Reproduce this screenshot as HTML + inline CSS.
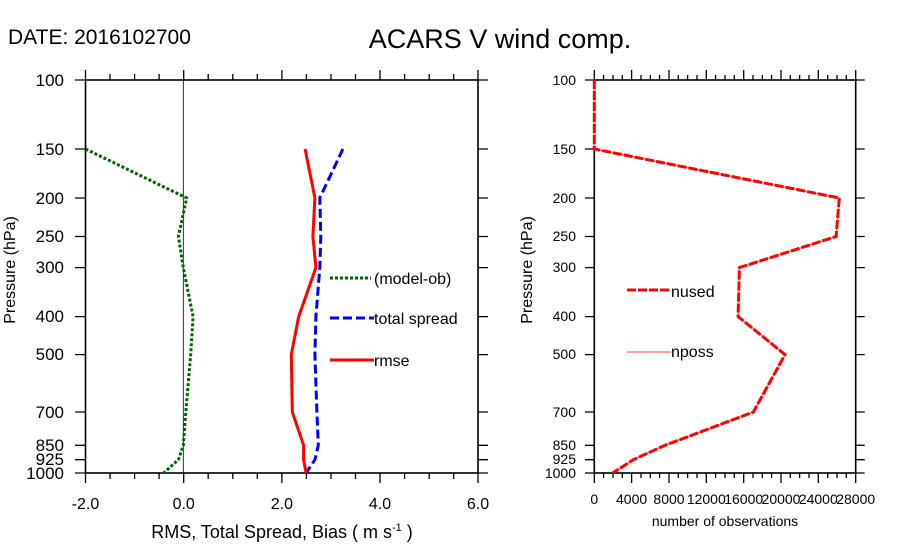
<!DOCTYPE html>
<html><head><meta charset="utf-8"><style>body{margin:0;background:#fff}svg{display:block}text{font-family:"Liberation Sans",sans-serif}</style></head><body>
<svg width="900" height="560" viewBox="0 0 900 560" xmlns="http://www.w3.org/2000/svg">
<text x="8" y="44" font-size="21">DATE: 2016102700</text>
<text x="500" y="48" font-size="27" text-anchor="middle">ACARS V wind comp.</text>
<g stroke="#000" stroke-width="1.3" fill="none">
<rect x="85.5" y="80" width="392.5" height="393" stroke-width="1.6"/>
<line x1="183.3" y1="80" x2="183.3" y2="473" stroke-width="0.8"/>
<path d="M85.5 80v-10M183.7 80v-10M281.9 80v-10M380 80v-10M478 80v-10M85.5 473v10M183.7 473v10M281.9 473v10M380 473v10M478 473v10"/>
<path d="M110 80v-6M134.6 80v-6M159.1 80v-6M208.2 80v-6M232.8 80v-6M257.3 80v-6M306.4 80v-6M331 80v-6M355.5 80v-6M404.6 80v-6M429.2 80v-6M453.7 80v-6M110 473v6M134.6 473v6M159.1 473v6M208.2 473v6M232.8 473v6M257.3 473v6M306.4 473v6M331 473v6M355.5 473v6M404.6 473v6M429.2 473v6M453.7 473v6"/>
<path d="M75 80h10M75 149h10M75 198h10M75 236.5h10M75 267.6h10M75 316.6h10M75 354.6h10M75 412h10M75 445.3h10M75 459.7h10M75 473h10M478 80h10M478 149h10M478 198h10M478 236.5h10M478 267.6h10M478 316.6h10M478 354.6h10M478 412h10M478 445.3h10M478 459.7h10M478 473h10"/>
</g>
<g font-size="17" text-anchor="end">
<text x="64" y="86">100</text><text x="64" y="155">150</text><text x="64" y="204">200</text><text x="64" y="242">250</text><text x="64" y="273">300</text><text x="64" y="322">400</text><text x="64" y="360">500</text><text x="64" y="418">700</text><text x="64" y="451">850</text><text x="64" y="465">925</text><text x="64" y="479">1000</text>
</g>
<g font-size="16" text-anchor="middle">
<text x="85.5" y="509">-2.0</text><text x="183.7" y="509">0.0</text><text x="281.9" y="509">2.0</text><text x="380" y="509">4.0</text><text x="478" y="509">6.0</text>
</g>
<text x="282" y="538" font-size="18" text-anchor="middle">RMS, Total Spread, Bias ( m s<tspan font-size="11" dy="-7">-1</tspan><tspan dy="7"> )</tspan></text>
<text transform="translate(15,270) rotate(-90)" font-size="16" text-anchor="middle">Pressure (hPa)</text>
<polyline fill="none" stroke="#006400" stroke-width="3" stroke-dasharray="3,2" points="85.5,149 186.7,198 178.4,236.5 183.3,267.6 193.1,316.6 190.7,354.6 185.8,412 183.3,445.3 178.4,459.7 163.7,473"/>
<polyline fill="none" stroke="#0000ff" stroke-width="3" stroke-dasharray="9,4" points="342.9,149 319.8,198 320.8,236.5 319.8,267.6 315.9,316.6 314.9,354.6 316.9,412 318.3,445.3 314.9,459.7 306.1,473"/>
<polyline fill="none" stroke="#ff0000" stroke-width="3" points="305.1,149 314.9,198 312.9,236.5 315.9,267.6 298.7,316.6 291.3,354.6 292.3,412 303.6,445.3 303.6,459.7 306.1,473"/>
<line x1="330" y1="278" x2="371" y2="278" stroke="#006400" stroke-width="3" stroke-dasharray="3,2"/>
<text x="374" y="284" font-size="16">(model-ob)</text>
<line x1="330" y1="318" x2="374" y2="318" stroke="#0000ff" stroke-width="3" stroke-dasharray="9,4"/>
<text x="374" y="324" font-size="16">total spread</text>
<line x1="330" y1="360" x2="374" y2="360" stroke="#ff0000" stroke-width="3"/>
<text x="374" y="366" font-size="16">rmse</text>

<g stroke="#000" stroke-width="1.3" fill="none">
<rect x="594.3" y="80" width="261.4" height="393" stroke-width="1.6"/>
<path d="M594.3 80v-10M631.6 80v-10M669 80v-10M706.3 80v-10M743.7 80v-10M781 80v-10M818.3 80v-10M855.7 80v-10M594.3 473v10M631.6 473v10M669 473v10M706.3 473v10M743.7 473v10M781 473v10M818.3 473v10M855.7 473v10"/>
<path d="M603.6 80v-5M613 80v-5M622.3 80v-5M641 80v-5M650.3 80v-5M659.6 80v-5M678.3 80v-5M687.6 80v-5M697 80v-5M715.6 80v-5M725 80v-5M734.3 80v-5M753 80v-5M762.3 80v-5M771.6 80v-5M790.3 80v-5M799.6 80v-5M809 80v-5M827.7 80v-5M837 80v-5M846.3 80v-5M603.6 473v5M613 473v5M622.3 473v5M641 473v5M650.3 473v5M659.6 473v5M678.3 473v5M687.6 473v5M697 473v5M715.6 473v5M725 473v5M734.3 473v5M753 473v5M762.3 473v5M771.6 473v5M790.3 473v5M799.6 473v5M809 473v5M827.7 473v5M837 473v5M846.3 473v5"/>
<path d="M585 80h9M585 149h9M585 198h9M585 236.5h9M585 267.6h9M585 316.6h9M585 354.6h9M585 412h9M585 445.3h9M585 459.7h9M585 473h9M855.7 80h9M855.7 149h9M855.7 198h9M855.7 236.5h9M855.7 267.6h9M855.7 316.6h9M855.7 354.6h9M855.7 412h9M855.7 445.3h9M855.7 459.7h9M855.7 473h9"/>
</g>
<g font-size="14" text-anchor="end">
<text x="576" y="85">100</text><text x="576" y="154">150</text><text x="576" y="203">200</text><text x="576" y="241">250</text><text x="576" y="272">300</text><text x="576" y="321">400</text><text x="576" y="359">500</text><text x="576" y="417">700</text><text x="576" y="450">850</text><text x="576" y="464">925</text><text x="576" y="478">1000</text>
</g>
<g font-size="14" text-anchor="middle">
<text x="594.3" y="504">0</text><text x="631.6" y="504">4000</text><text x="669" y="504">8000</text><text x="706.3" y="504">12000</text><text x="743.7" y="504">16000</text><text x="781" y="504">20000</text><text x="818.3" y="504">24000</text><text x="855.7" y="504">28000</text>
</g>
<text x="725" y="526" font-size="14" text-anchor="middle">number of observations</text>
<text transform="translate(532,270) rotate(-90)" font-size="16" text-anchor="middle">Pressure (hPa)</text>
<polyline fill="none" stroke="#ff8080" stroke-width="1.5" points="594.3,80 594.3,149 839.3,198 836.1,236.5 739.4,267.6 738.1,316.6 785,354.6 753.4,412 665,445.3 633.3,459.7 612.6,473"/>
<polyline fill="none" stroke="#ff0000" stroke-width="3" stroke-dasharray="9,2" points="594.3,80 594.3,149 839.3,198 836.1,236.5 739.4,267.6 738.1,316.6 785,354.6 753.4,412 665,445.3 633.3,459.7 612.6,473"/>
<line x1="627" y1="290" x2="671" y2="290" stroke="#ff0000" stroke-width="3" stroke-dasharray="9,2"/>
<text x="671" y="297" font-size="16">nused</text>
<line x1="627" y1="352" x2="671" y2="352" stroke="#ff8080" stroke-width="1.5"/>
<text x="671" y="357" font-size="16">nposs</text>
</svg>
</body></html>
